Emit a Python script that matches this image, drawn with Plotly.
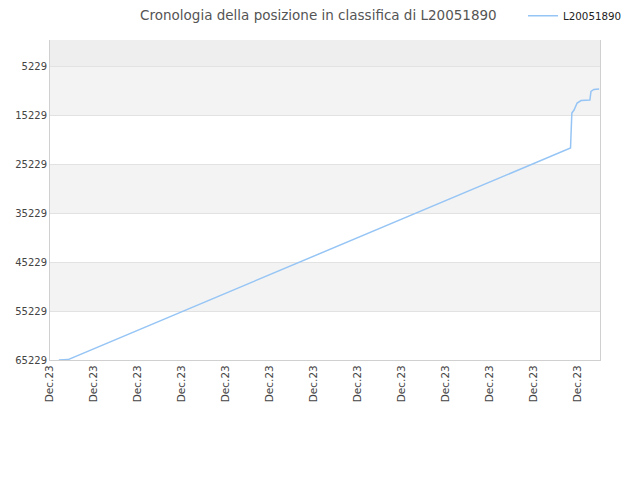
import plotly.graph_objects as go

# posizione in classifica
days = [2.0, 4.1, 118.3, 118.4, 118.6, 119.1, 119.8, 120.7, 122.7, 122.95, 123.6, 124.8]
ranks = [65229, 65150, 21964, 17882, 14821, 14208, 12780, 12270, 12168, 10433, 10025, 9923]

y_ticks = [5229, 15229, 25229, 35229, 45229, 55229, 65229]
x_ticks = [0, 10, 20, 30, 40, 50, 60, 70, 80, 90, 100, 110, 120]
x_labels = ['Dec.23'] * len(x_ticks)

fig = go.Figure()
fig.add_trace(go.Scatter(x=days, y=ranks, mode='lines', name='L20051890',
                         line=dict(color='#96c5f5', width=1.5)))

# bande alternate di sfondo
bands = [(-77, 5229, '#eeeeee'), (5229, 15229, '#f3f3f3'), (25229, 35229, '#f3f3f3'),
         (45229, 55229, '#f3f3f3')]
for y0, y1, col in bands:
    fig.add_shape(type='rect', xref='paper', x0=0, x1=1, y0=y0, y1=y1,
                  fillcolor=col, line_width=0, layer='below')

fig.update_layout(
    width=640, height=480,
    margin=dict(l=42, r=48, t=32, b=128, autoexpand=False),
    paper_bgcolor='white', plot_bgcolor='white',
    font=dict(family='DejaVu Sans', size=10, color='#444'),
    title=dict(text='Cronologia della posizione in classifica di L20051890',
               x=0.485, xanchor='center', y=0.9845, yanchor='middle',
               font=dict(size=13.5, color='#555')),
    showlegend=True,
    legend=dict(x=0.86, xanchor='left', y=1.076, yanchor='middle',
                font=dict(size=10.3, color='#222'), bgcolor='rgba(0,0,0,0)'),
    xaxis=dict(range=[0, 125], tickvals=x_ticks, ticktext=x_labels, tickangle=-90,
               showgrid=False, zeroline=False, showline=True, linecolor='#d0d0d0',
               mirror=False, ticks='', tickfont=dict(size=10.5, color='#444')),
    yaxis=dict(range=[65229, -77], tickvals=y_ticks, showgrid=True, gridcolor='#e2e2e2',
               zeroline=False, showline=True, linecolor='#d0d0d0', mirror=True,
               ticks='', tickformat='d', tickfont=dict(size=10, color='#444')),
)

fig.write_html("out.html")
